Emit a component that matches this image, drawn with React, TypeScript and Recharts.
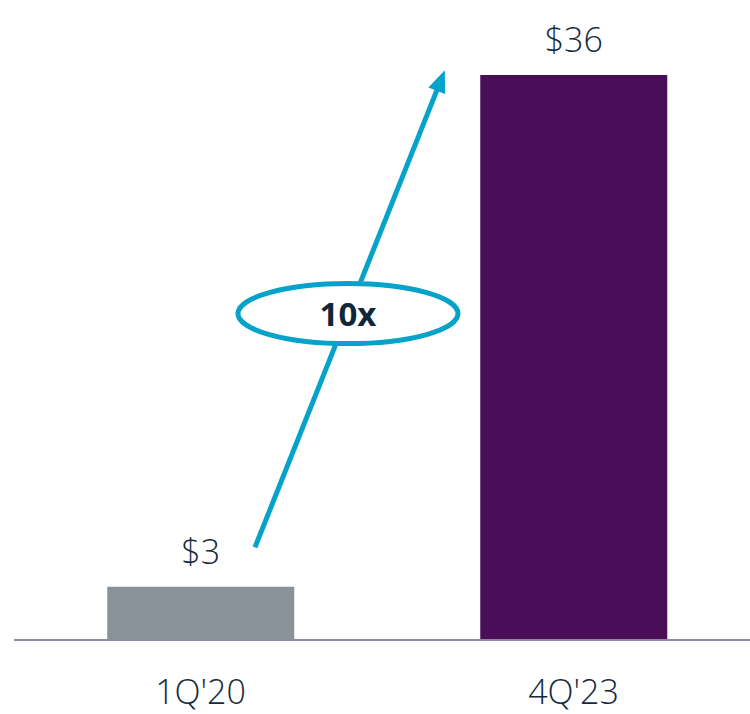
import React from "react";
import { BarChart, Bar, XAxis, YAxis, LabelList, ReferenceLine, Cell } from "recharts";

const categories = ["1Q'20", "4Q'23"];
const values = [3.4, 36];
const barColors = ["#889298", "#4a0e58"];
const growthLabel = "10x";
// arrow annotation: start/end heights in data units
const arrowStartValue = 5.9;
const arrowEndValue = 36.3;

const data = categories.map((c, i) => ({ name: c, value: values[i] }));

const FONT = "'Open Sans', sans-serif";
const TEXT = "#162a3e";
const CYAN = "#05a3c9";

const ArrowShape = (props: any) => {
  const { x1, y1, x2, y2 } = props;
  if ([x1, y1, x2, y2].some((v) => typeof v !== "number" || isNaN(v))) return null;
  const sx = x1 + 0.146 * (x2 - x1);
  const ex = x1 + 0.655 * (x2 - x1);
  const sy = y1;
  const ey = y2;
  const dx = ex - sx;
  const dy = ey - sy;
  const len = Math.sqrt(dx * dx + dy * dy);
  const ux = dx / len;
  const uy = dy / len;
  const headLen = 22;
  const headHalf = 9;
  const bx = ex - ux * headLen;
  const by = ey - uy * headLen;
  const px = -uy;
  const py = ux;
  const t = 0.49;
  const cx = sx + t * dx;
  const cy = sy + t * dy;
  return (
    <g>
      <line x1={sx} y1={sy} x2={bx + ux * 2} y2={by + uy * 2} stroke={CYAN} strokeWidth={5} />
      <polygon
        points={`${ex},${ey} ${bx + px * headHalf},${by + py * headHalf} ${bx - px * headHalf},${by - py * headHalf}`}
        fill={CYAN}
      />
      <ellipse cx={cx} cy={cy} rx={110} ry={30} fill="#ffffff" stroke={CYAN} strokeWidth={5} />
      <text
        x={cx}
        y={cy}
        textAnchor="middle"
        dominantBaseline="central"
        fontFamily={FONT}
        fontWeight={700}
        fontSize={33}
        fill="#10263a"
      >
        {growthLabel}
      </text>
    </g>
  );
};

export default function App() {
  return (
    <div style={{ position: "absolute", left: 0, top: 0, width: 750, height: 714, overflow: "hidden", background: "#fff" }}>
      <BarChart
        width={760}
        height={714}
        data={data}
        margin={{ top: 75, right: 0, left: 14, bottom: 0 }}
        barCategoryGap="25%"
      >
        <XAxis
          dataKey="name"
          height={74}
          tickLine={false}
          axisLine={{ stroke: "#8f8d9d", strokeWidth: 2 }}
          tickMargin={34}
          tick={{ fill: TEXT, fontSize: 34, fontFamily: FONT, fontWeight: 300 }}
        />
        <YAxis hide domain={[0, 36]} />
        <Bar dataKey="value" isAnimationActive={false}>
          {data.map((d, i) => (
            <Cell key={d.name} fill={barColors[i]} />
          ))}
          <LabelList
            dataKey="value"
            position="top"
            offset={23}
            formatter={(v: any) => `$${Math.round(Number(v))}`}
            style={{ fill: TEXT, fontSize: 34, fontFamily: FONT, fontWeight: 300 }}
          />
        </Bar>
        <ReferenceLine
          segment={[
            { x: categories[0], y: arrowStartValue },
            { x: categories[1], y: arrowEndValue },
          ]}
          ifOverflow="visible"
          shape={ArrowShape}
        />
      </BarChart>
    </div>
  );
}
